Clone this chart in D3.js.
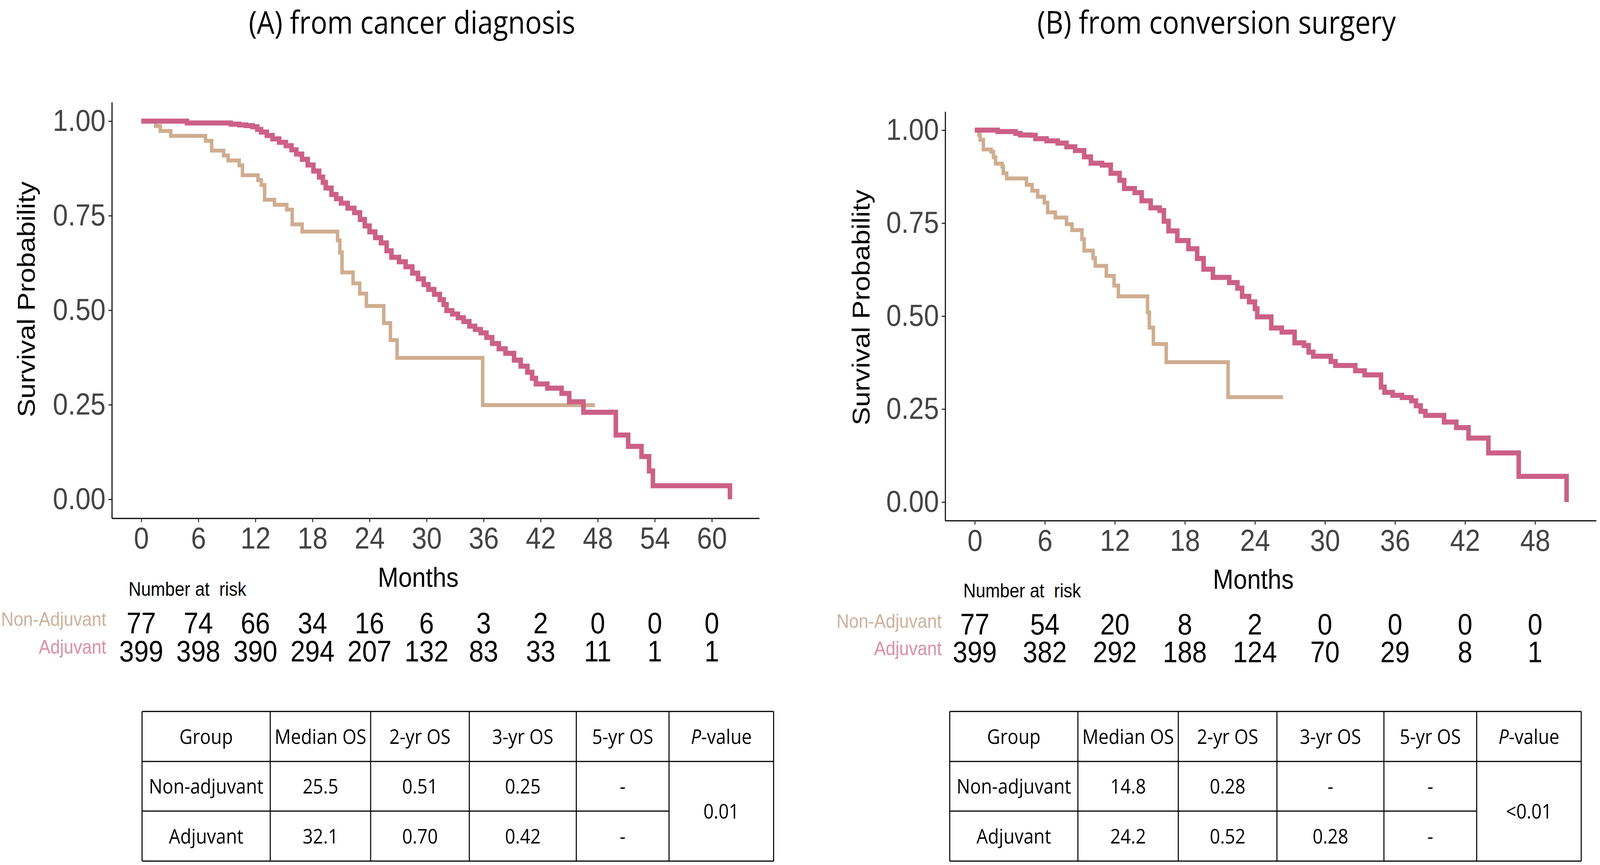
<!DOCTYPE html>
<html>
<head>
<meta charset="utf-8">
<script src="https://cdn.jsdelivr.net/npm/d3@7.9.0/dist/d3.min.js"></script>
<style>
  html, body { margin: 0; padding: 0; width: 100%; height: 100%; overflow: hidden; background: #fff; }
  svg { display: block; width: 100vw; height: 100vh; }
  .axis text { font-family: "Liberation Sans", Arial, sans-serif; }
</style>
</head>
<body>
<svg id="chart"></svg>
<script>
// ---- data ----
const survTicks = [0, 0.25, 0.5, 0.75, 1];
const monthTicksA = [0, 6, 12, 18, 24, 30, 36, 42, 48, 54, 60];
const monthTicksB = [0, 6, 12, 18, 24, 30, 36, 42, 48];
const groupLabels = ['Non-Adjuvant', 'Adjuvant'];

// Kaplan-Meier steps [month, survival]
const nonAdjA = [[0,1],[1.5,0.987],[2.0,0.974],[3.1,0.961],[6.75,0.948],[7.4,0.922],[8.66,0.909],
  [9.13,0.896],[10.3,0.883],[10.64,0.857],[12.27,0.844],[12.62,0.831],[12.97,0.792],[14.0,0.779],
  [15.3,0.766],[15.87,0.727],[16.92,0.708],[20.64,0.685],[20.88,0.653],[21.11,0.600],[22.27,0.571],
  [22.97,0.544],[23.67,0.511],[25.5,0.466],[26.2,0.421],[26.9,0.374],[35.9,0.249],[47.7,0.249]];
const adjA = [[0,1],[4.8,0.995],[9.4,0.992],[10.3,0.99],[11.0,0.988],[11.7,0.985],[12.2,0.978],
  [12.6,0.971],[13.2,0.962],[13.8,0.953],[14.5,0.944],[15.2,0.935],[15.8,0.924],[16.3,0.913],
  [16.9,0.899],[17.5,0.884],[18.1,0.868],[18.7,0.852],[19.1,0.838],[19.4,0.823],[20.0,0.806],
  [20.5,0.795],[21.0,0.783],[21.7,0.770],[22.4,0.758],[23.0,0.740],[23.5,0.723],[24.0,0.707],
  [24.6,0.692],[25.2,0.678],[25.8,0.657],[26.3,0.640],[27.1,0.628],[27.8,0.615],[28.5,0.598],
  [29.1,0.583],[29.7,0.568],[30.2,0.555],[30.8,0.542],[31.4,0.528],[31.8,0.515],[32.1,0.499],
  [32.7,0.490],[33.3,0.480],[33.9,0.470],[34.5,0.458],[35.1,0.449],[35.7,0.440],[36.3,0.428],
  [36.9,0.412],[37.6,0.398],[38.3,0.386],[39.2,0.368],[39.9,0.352],[40.6,0.336],[41.1,0.320],
  [41.5,0.305],[42.7,0.294],[44.2,0.280],[45.0,0.258],[46.5,0.230],[49.9,0.170],[51.2,0.140],
  [52.6,0.113],[53.4,0.075],[53.8,0.036],[61.9,0.0]];
const nonAdjB = [[0,1],[0.36,0.987],[0.46,0.974],[0.73,0.948],[1.4,0.942],[1.6,0.927],[1.78,0.91],
  [2.35,0.902],[2.44,0.884],[2.73,0.870],[4.43,0.853],[4.91,0.837],[5.39,0.821],[5.96,0.805],
  [6.24,0.779],[6.9,0.765],[7.86,0.747],[8.33,0.731],[9.18,0.707],[9.37,0.676],[10.13,0.656],
  [10.32,0.635],[11.27,0.608],[11.93,0.582],[12.3,0.553],[14.8,0.51],[14.95,0.469],[15.3,0.425],
  [16.4,0.376],[21.7,0.282],[26.4,0.282]];
const adjB = [[0,1],[1.96,0.996],[3.5,0.991],[3.9,0.987],[4.8,0.986],[5.2,0.977],[6.15,0.971],
  [7.1,0.965],[7.86,0.955],[8.6,0.945],[9.37,0.928],[9.94,0.911],[10.9,0.906],[11.65,0.884],
  [12.4,0.865],[12.8,0.843],[13.7,0.832],[14.3,0.810],[15.07,0.791],[15.83,0.784],[16.2,0.755],
  [16.6,0.729],[17.35,0.703],[18.3,0.681],[19.05,0.655],[19.6,0.626],[20.4,0.604],[21.8,0.590],
  [22.5,0.575],[22.9,0.553],[23.5,0.538],[24.0,0.52],[24.2,0.498],[25.4,0.468],[26.3,0.457],
  [27.4,0.428],[28.2,0.421],[28.6,0.403],[29.0,0.392],[30.5,0.378],[30.9,0.367],[32.6,0.353],
  [33.4,0.342],[34.8,0.309],[35.1,0.295],[35.8,0.287],[36.6,0.281],[37.4,0.272],[37.8,0.259],
  [38.2,0.244],[38.6,0.233],[40.2,0.215],[41.25,0.200],[42.3,0.172],[44.0,0.132],[46.6,0.069],
  [50.7,0.0]];

// number at risk
const riskNonAdjA = [77, 74, 66, 34, 16, 6, 3, 2, 0, 0, 0];
const riskAdjA = [399, 398, 390, 294, 207, 132, 83, 33, 11, 1, 1];
const riskNonAdjB = [77, 54, 20, 8, 2, 0, 0, 0, 0];
const riskAdjB = [399, 382, 292, 188, 124, 70, 29, 8, 1];

// summary tables
const tableHeader = ['Group', 'Median OS', '2-yr OS', '3-yr OS', '5-yr OS'];
const tableRowsA = [['Non-adjuvant', '25.5', '0.51', '0.25', '-'], ['Adjuvant', '32.1', '0.70', '0.42', '-']];
const tableRowsB = [['Non-adjuvant', '14.8', '0.28', '-', '-'], ['Adjuvant', '24.2', '0.52', '0.28', '-']];
const pValueA = '0.01';
const pValueB = '<0.01';

// ---- drawing ----
const W = 4606, H = 2214;
const pink = '#CC6086', tan = '#CFAD90';
const pinkText = '#DB91A6', tanText = '#CDB29C';
const axisFont = '"Liberation Sans", Arial, sans-serif';
const textFont = '"Open Sans", "Noto Sans", sans-serif';

// laid out in a 4606x2214 box, stretched to fill the window
const svg = d3.select('#chart')
  .attr('viewBox', `0 0 ${W} ${H}`)
  .attr('preserveAspectRatio', 'none');
svg.append('rect').attr('width', W).attr('height', H).attr('fill', '#fff');

function drawPanel(p) {
  const g = svg.append('g');

  // title
  g.append('text')
    .attr('x', p.titleX).attr('y', 86)
    .attr('text-anchor', 'middle')
    .style('font-family', textFont).style('font-size', '80px').attr('fill', '#000')
    .text(p.title);

  const tMax = d3.max(p.curves[1].concat(p.curves[0]), d => d[0]);
  const x = d3.scaleLinear()
    .domain([-0.05 * tMax, 1.05 * tMax])
    .range([p.left, p.right]);
  const span = p.yZero - p.yOne;
  const y = d3.scaleLinear()
    .domain([-0.05, 1.05])
    .range([p.yZero + 0.05 * span, p.yOne - 0.05 * span]);

  const yAxis = g.append('g').attr('class', 'axis')
    .attr('transform', `translate(${p.left},0)`)
    .call(d3.axisLeft(y).tickValues(survTicks).tickFormat(d3.format('.2f'))
      .tickSize(10).tickSizeOuter(0).tickPadding(8));
  const xAxis = g.append('g').attr('class', 'axis')
    .attr('transform', `translate(0,${y(-0.05)})`)
    .call(d3.axisBottom(x).tickValues(p.months).tickSize(10).tickSizeOuter(0).tickPadding(12));

  [yAxis, xAxis].forEach(a => {
    a.select('.domain').attr('stroke', '#000').attr('stroke-width', 3);
    a.selectAll('.tick line').attr('stroke', '#333').attr('stroke-width', 3);
    a.selectAll('.tick text').attr('fill', '#444').style('font-size', '78px');
  });

  // axis titles
  g.append('text')
    .attr('transform', `translate(${p.yLabelX},${p.yLabelY}) rotate(-90)`)
    .attr('text-anchor', 'middle')
    .style('font-family', axisFont).style('font-size', '71px').attr('fill', '#000')
    .text('Survival Probability');
  g.append('text')
    .attr('x', (p.left + p.right) / 2 - 50).attr('y', p.monthsY)
    .attr('text-anchor', 'middle')
    .style('font-family', axisFont).style('font-size', '71px').attr('fill', '#000')
    .text('Months');

  // survival curves
  const line = d3.line().x(d => x(d[0])).y(d => y(d[1])).curve(d3.curveStepAfter);
  const colors = [tan, pink];
  const widths = [10, 13];
  p.curves.forEach((c, i) => {
    g.append('path').datum(c)
      .attr('d', line)
      .attr('fill', 'none')
      .attr('stroke', colors[i])
      .attr('stroke-width', widths[i])
      .attr('stroke-linejoin', 'miter')
      .attr('stroke-linecap', 'butt');
  });

  // number at risk
  g.append('text')
    .attr('x', p.riskTitleX).attr('y', p.riskTitleY)
    .style('font-family', axisFont).style('font-size', '50px').style('white-space', 'pre')
    .attr('fill', '#000')
    .text('Number at  risk');

  const labelColors = [tanText, pinkText];
  groupLabels.forEach((lab, i) => {
    g.append('text')
      .attr('x', p.riskLabelX).attr('y', p.riskLabelY[i])
      .attr('text-anchor', 'end')
      .style('font-family', axisFont).style('font-size', '50px')
      .attr('fill', labelColors[i])
      .text(lab);
    g.selectAll(null).data(p.risk[i]).join('text')
      .attr('x', (d, j) => x(p.months[j]))
      .attr('y', p.riskY[i])
      .attr('text-anchor', 'middle')
      .style('font-family', axisFont).style('font-size', '76px')
      .attr('fill', '#000')
      .text(d => d);
  });

  // summary table
  const colW = [369, 289, 284, 308, 267, 301];
  const colX = [p.tableLeft];
  colW.forEach(w => colX.push(colX[colX.length - 1] + w));
  const rowY = [1821, 1949, 2076, 2204];
  const tb = g.append('g').attr('stroke', '#000').attr('stroke-width', 3);
  colX.forEach(cx => tb.append('line').attr('x1', cx).attr('x2', cx).attr('y1', rowY[0]).attr('y2', rowY[3]));
  tb.append('line').attr('x1', colX[0]).attr('x2', colX[6]).attr('y1', rowY[0]).attr('y2', rowY[0]);
  tb.append('line').attr('x1', colX[0]).attr('x2', colX[6]).attr('y1', rowY[1]).attr('y2', rowY[1]);
  tb.append('line').attr('x1', colX[0]).attr('x2', colX[5]).attr('y1', rowY[2]).attr('y2', rowY[2]);
  tb.append('line').attr('x1', colX[0]).attr('x2', colX[6]).attr('y1', rowY[3]).attr('y2', rowY[3]);

  const cellText = (txt, c0, c1, r0, r1) => g.append('text')
    .attr('x', (colX[c0] + colX[c1]) / 2)
    .attr('y', (rowY[r0] + rowY[r1]) / 2 + 19)
    .attr('text-anchor', 'middle')
    .style('font-family', textFont).style('font-size', '52px')
    .attr('fill', '#000')
    .text(txt);

  tableHeader.forEach((h, j) => cellText(h, j, j + 1, 0, 1));
  const pv = cellText('', 5, 6, 0, 1);
  pv.append('tspan').style('font-style', 'italic').text('P');
  pv.append('tspan').text('-value');
  p.table.forEach((row, i) => row.forEach((v, j) => cellText(v, j, j + 1, i + 1, i + 2)));
  cellText(p.pValue, 5, 6, 1, 3);
}

drawPanel({
  title: '(A) from cancer diagnosis', titleX: 1186,
  left: 322, right: 2186, yZero: 1278, yOne: 310,
  months: monthTicksA, curves: [nonAdjA, adjA],
  yLabelX: 100, yLabelY: 766, monthsY: 1502,
  riskTitleX: 370, riskTitleY: 1525,
  riskLabelX: 306, riskLabelY: [1602, 1673], riskY: [1621, 1693],
  risk: [riskNonAdjA, riskAdjA],
  tableLeft: 409, table: tableRowsA, pValue: pValueA
});

drawPanel({
  title: '(B) from conversion surgery', titleX: 3502,
  left: 2721, right: 4595, yZero: 1285, yOne: 333,
  months: monthTicksB, curves: [nonAdjB, adjB],
  yLabelX: 2503, yLabelY: 787, monthsY: 1507,
  riskTitleX: 2773, riskTitleY: 1529,
  riskLabelX: 2711, riskLabelY: [1607, 1677], riskY: [1624, 1695],
  risk: [riskNonAdjB, riskAdjB],
  tableLeft: 2734, table: tableRowsB, pValue: pValueB
});
</script>
</body>
</html>
